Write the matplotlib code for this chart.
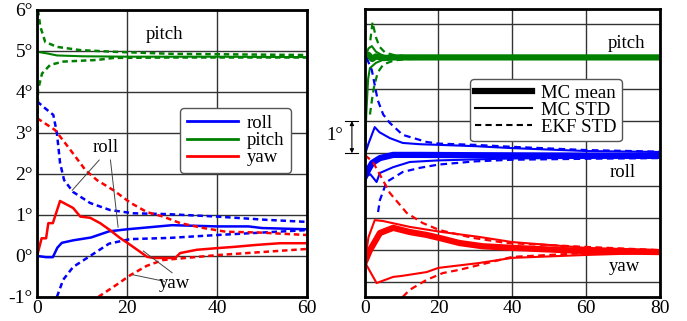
import matplotlib
matplotlib.use('Agg')
import matplotlib.pyplot as plt

plt.rcParams['font.family'] = ['Liberation Serif', 'DejaVu Serif']

# ---------------- left panel data (degrees vs time) ----------------
pitch_x = [0, 2.2, 4.4, 10, 20, 40, 60]
pitch_y = [4.98, 4.94, 4.89, 4.87, 4.86, 4.86, 4.85]
pitch_up_x = [0.2, 0.7, 1.8, 4.4, 9.6, 17, 30, 60]
pitch_up_y = [6.0, 5.6, 5.22, 5.1, 5.02, 4.98, 4.93, 4.9]
pitch_lo_x = [0, 0.1, 0.2, 1.1, 2.9, 5.8, 13.3, 17, 30, 60]
pitch_lo_y = [1.9, 3.0, 4.05, 4.45, 4.66, 4.74, 4.78, 4.83, 4.84, 4.84]

roll_x = [0, 2, 3.5, 4.5, 5.5, 8, 12, 16, 20, 25, 30, 40, 47, 50, 60]
roll_y = [0, -0.03, -0.03, 0.2, 0.32, 0.38, 0.45, 0.6, 0.65, 0.7, 0.75, 0.72, 0.72, 0.68, 0.65]
roll_up_x = [0, 1.8, 3.6, 4.4, 5.1, 6, 8, 11.8, 16.2, 21.4, 28.9, 40, 51, 60]
roll_up_y = [3.77, 3.6, 3.44, 3.0, 2.27, 1.85, 1.56, 1.29, 1.12, 1.04, 1.02, 0.96, 0.88, 0.83]
roll_lo_x = [4.4, 5.8, 8, 11.8, 16, 20.7, 29.5, 40, 50, 60]
roll_lo_y = [-1.0, -0.58, -0.27, 0.0, 0.3, 0.41, 0.44, 0.51, 0.57, 0.63]

yaw_x = [0, 1, 2, 2.5, 3.5, 5.1, 8, 9.6, 11.8, 14, 16.2, 18.4, 20.7, 22.9, 24.4,
         25.8, 27.3, 30.7, 31.8, 35.5, 40, 43.7, 48.9, 54, 60]
yaw_y = [0, 0.43, 0.43, 0.8, 0.8, 1.34, 1.17, 0.96, 0.93, 0.8, 0.63, 0.44, 0.27, 0.1, -0.02,
         -0.05, -0.05, -0.05, 0.07, 0.15, 0.19, 0.22, 0.27, 0.31, 0.31]
yaw_up_x = [0, 4, 7.3, 10.7, 13.3, 17, 20.7, 24.4, 28, 31.8, 37, 42, 49.5, 60]
yaw_up_y = [3.36, 3.07, 2.6, 2.1, 1.85, 1.6, 1.3, 1.07, 0.96, 0.8, 0.68, 0.59, 0.57, 0.51]
yaw_lo_x = [13.6, 17.7, 20.7, 24.4, 28, 40, 60]
yaw_lo_y = [-1.0, -0.7, -0.47, -0.24, -0.1, 0.02, 0.17]

left_yticks = [-1, 0, 1, 2, 3, 4, 5, 6]
left_ylabels = ['-1°', '0°', '1°', '2°', '3°', '4°', '5°', '6°']
left_xticks = [0, 20, 40, 60]

# ---------------- right panel data (offset units, 1 grid = 1°) ----------------
p_mean_x = [0, 1, 2, 3, 5, 8, 80]
p_mean_y = [6.95, 7.05, 6.92, 7.0, 6.95, 6.97, 6.97]
p_std_up_x = [0, 1, 1.9, 3, 4.5, 6, 10, 80]
p_std_up_y = [6.95, 7.25, 7.32, 7.15, 7.05, 7.0, 7.0, 7.0]
p_std_lo_x = [0, 0.4, 0.9, 1.4, 3, 5, 8, 80]
p_std_lo_y = [3.95, 5.2, 6.3, 6.64, 6.8, 6.9, 6.93, 6.93]
p_ekf_up_x = [1.5, 2.1, 3, 4, 5.5, 8, 12, 35]
p_ekf_up_y = [7.5, 8.06, 7.6, 7.3, 7.12, 7.04, 7.0, 6.98]
p_ekf_lo_x = [1.4, 2, 2.5, 3.5, 5, 8, 12, 35]
p_ekf_lo_y = [5.2, 5.7, 6.05, 6.5, 6.75, 6.88, 6.92, 6.94]

r_mean_x = [0, 1, 2, 4.1, 7.7, 15, 30, 50, 80]
r_mean_y = [3.27, 3.5, 3.7, 3.85, 3.95, 3.95, 3.94, 3.93, 3.92]
r_std_up_x = [0, 1, 2.7, 4, 6.8, 10.3, 15, 20.3, 30, 40, 60, 80]
r_std_up_y = [3.95, 4.3, 4.81, 4.65, 4.47, 4.32, 4.28, 4.26, 4.22, 4.16, 4.07, 4.04]
r_std_lo_x = [0, 1.5, 3.2, 4.1, 7.7, 12.2, 20, 40, 60, 80]
r_std_lo_y = [3.27, 3.35, 3.11, 3.39, 3.57, 3.73, 3.78, 3.84, 3.86, 3.87]
r_ekf_up_x = [0.5, 1.9, 3.5, 5, 6.8, 10.3, 16.8, 20, 30, 40, 60, 80]
r_ekf_up_y = [6.95, 6.58, 5.65, 5.2, 4.94, 4.57, 4.35, 4.3, 4.26, 4.2, 4.1, 4.05]
r_ekf_lo_x = [3.6, 4.1, 5.9, 10.3, 15, 20, 30, 40, 60, 80]
r_ekf_lo_y = [2.18, 2.55, 3.11, 3.42, 3.55, 3.65, 3.75, 3.8, 3.83, 3.85]

y_mean_x = [0, 1.4, 4.1, 7.7, 12.2, 16.8, 21.2, 25.7, 32, 40, 60, 80]
y_mean_y = [0.63, 1.0, 1.53, 1.69, 1.56, 1.47, 1.35, 1.22, 1.12, 1.07, 0.97, 0.94]
y_std_up_x = [0, 1, 2.7, 5, 12.2, 21, 31, 40, 60, 80]
y_std_up_y = [0.63, 1.4, 1.93, 1.9, 1.72, 1.56, 1.41, 1.25, 1.07, 1.0]
y_std_lo_x = [0, 3.2, 7.7, 10, 16.8, 20, 31, 40, 60, 80]
y_std_lo_y = [0.63, -0.02, 0.17, 0.2, 0.32, 0.45, 0.6, 0.76, 0.85, 0.92]
y_ekf_up_x = [0, 2.2, 4.9, 6.8, 11.4, 15.7, 20.3, 29.3, 38.5, 60, 80]
y_ekf_up_y = [3.95, 3.73, 3.17, 2.77, 2.15, 1.84, 1.62, 1.38, 1.22, 1.1, 1.0]
y_ekf_lo_x = [10.3, 12.2, 16.8, 21.2, 25.7, 40, 60, 80]
y_ekf_lo_y = [-0.45, -0.23, 0.08, 0.29, 0.39, 0.79, 0.91, 0.95]

right_xticks = [0, 20, 40, 60, 80]
right_grid_y = [0, 1, 2, 3, 4, 5, 6, 7, 8]

# ---------------- figure ----------------
fig = plt.figure(figsize=(6.87, 3.21), dpi=100)
ax1 = fig.add_axes([0.054, 0.075, 0.393, 0.894])
ax2 = fig.add_axes([0.531, 0.075, 0.429, 0.897])

dash = (0, (2.2, 1.5))
dash2 = (0, (3, 2))
lw = 1.8

# left panel
ax1.plot(pitch_x, pitch_y, color='green', lw=1.5)
ax1.plot(pitch_up_x, pitch_up_y, color='green', lw=lw, ls=dash)
ax1.plot(pitch_lo_x, pitch_lo_y, color='green', lw=lw, ls=dash)
ax1.plot(roll_x, roll_y, color='blue', lw=lw)
ax1.plot(roll_up_x, roll_up_y, color='blue', lw=lw, ls=dash)
ax1.plot(roll_lo_x, roll_lo_y, color='blue', lw=lw, ls=dash)
ax1.plot(yaw_x, yaw_y, color='red', lw=lw)
ax1.plot(yaw_up_x, yaw_up_y, color='red', lw=lw, ls=dash)
ax1.plot(yaw_lo_x, yaw_lo_y, color='red', lw=lw, ls=dash)
# legend handles order: roll, pitch, yaw
h_roll, = ax1.plot([], [], color='blue', lw=2)
h_pitch, = ax1.plot([], [], color='green', lw=2)
h_yaw, = ax1.plot([], [], color='red', lw=2)

ax1.set_xlim(0, 60)
ax1.set_ylim(-1, 6)
ax1.set_xticks(left_xticks)
ax1.set_yticks(left_yticks)
ax1.set_yticklabels(left_ylabels)

ax1.text(28.4, 5.4, 'pitch', fontsize=13.5, ha='center', va='center')
ax1.text(15.3, 2.65, 'roll', fontsize=13.5, ha='center', va='center')
ax1.text(30.5, -0.68, 'yaw', fontsize=13.5, ha='center', va='center')
ax1.plot([13.8, 7.8], [2.34, 1.6], color='#444444', lw=0.7)
ax1.plot([16.3, 18.0], [2.34, 0.7], color='#444444', lw=0.7)
ax1.plot([30.0, 23.6], [-0.41, 0.12], color='#444444', lw=0.7)
ax1.plot([28.3, 21.3], [-0.62, -0.46], color='#444444', lw=0.7)

leg1 = ax1.legend([h_roll, h_pitch, h_yaw], ['roll', 'pitch', 'yaw'],
                  loc='upper right', bbox_to_anchor=(0.975, 0.69), fontsize=13.5,
                  handlelength=2.7, handletextpad=0.5, labelspacing=0.0,
                  borderpad=0.35, fancybox=True, framealpha=1, edgecolor='#555555')
leg1.get_frame().set_linewidth(1.0)

# right panel
ax2.plot(p_ekf_up_x, p_ekf_up_y, color='green', lw=1.6, ls=dash2)
ax2.plot(p_ekf_lo_x, p_ekf_lo_y, color='green', lw=1.6, ls=dash2)
ax2.plot(p_std_up_x, p_std_up_y, color='green', lw=1.5)
ax2.plot(p_std_lo_x, p_std_lo_y, color='green', lw=1.5)
ax2.plot(p_mean_x, p_mean_y, color='green', lw=4.5)

ax2.plot(r_ekf_up_x, r_ekf_up_y, color='blue', lw=1.6, ls=dash2)
ax2.plot(r_ekf_lo_x, r_ekf_lo_y, color='blue', lw=1.6, ls=dash2)
ax2.plot(r_std_up_x, r_std_up_y, color='blue', lw=1.5)
ax2.plot(r_std_lo_x, r_std_lo_y, color='blue', lw=1.5)
ax2.plot(r_mean_x, r_mean_y, color='blue', lw=4.5)

ax2.plot(y_ekf_up_x, y_ekf_up_y, color='red', lw=1.6, ls=dash2)
ax2.plot(y_ekf_lo_x, y_ekf_lo_y, color='red', lw=1.6, ls=dash2)
ax2.plot(y_std_up_x, y_std_up_y, color='red', lw=1.5)
ax2.plot(y_std_lo_x, y_std_lo_y, color='red', lw=1.5)
ax2.plot(y_mean_x, y_mean_y, color='red', lw=4.5)

h_mean, = ax2.plot([], [], color='black', lw=4.5)
h_std, = ax2.plot([], [], color='black', lw=1.5)
h_ekf, = ax2.plot([], [], color='black', lw=1.5, ls=dash2)

ax2.set_xlim(0, 80)
ax2.set_ylim(-0.45, 8.47)
ax2.set_xticks(right_xticks)
ax2.set_yticks(right_grid_y)
ax2.set_yticklabels([])

ax2.text(71, 7.41, 'pitch', fontsize=13.5, ha='center', va='center')
ax2.text(70, 3.39, 'roll', fontsize=13.5, ha='center', va='center')
ax2.text(70.5, 0.48, 'yaw', fontsize=13.5, ha='center', va='center')

leg2 = ax2.legend([h_mean, h_std, h_ekf], ['MC mean', 'MC STD', 'EKF STD'],
                  loc='upper right', bbox_to_anchor=(0.905, 0.79), fontsize=13.5,
                  handlelength=3.0, handletextpad=0.5, labelspacing=0.0,
                  borderpad=0.3, fancybox=True, framealpha=1, edgecolor='#555555')
leg2.get_frame().set_linewidth(1.0)

# 1 degree scale marker left of the right panel
ax2.annotate('', xy=(-3.5, 4), xytext=(-3.5, 5), annotation_clip=False,
             arrowprops=dict(arrowstyle='<|-|>', color='black', lw=0.8,
                             mutation_scale=6, shrinkA=0, shrinkB=0))
ax2.plot([-5.4, -1.8], [4, 4], color='black', lw=0.8, clip_on=False)
ax2.plot([-5.4, -1.8], [5, 5], color='black', lw=0.8, clip_on=False)
ax2.text(-6.0, 4.55, '1°', fontsize=13.5, ha='right', va='center')

for ax in (ax1, ax2):
    ax.grid(True, color='#333333', lw=1.0)
    ax.set_axisbelow(True)
    ax.tick_params(length=0, labelsize=14)
    ax.tick_params(axis='x', pad=2)
    ax.tick_params(axis='y', pad=3)
    for s in ax.spines.values():
        s.set_linewidth(2.0)
        s.set_color('black')

fig.savefig('out.png', dpi=100)
